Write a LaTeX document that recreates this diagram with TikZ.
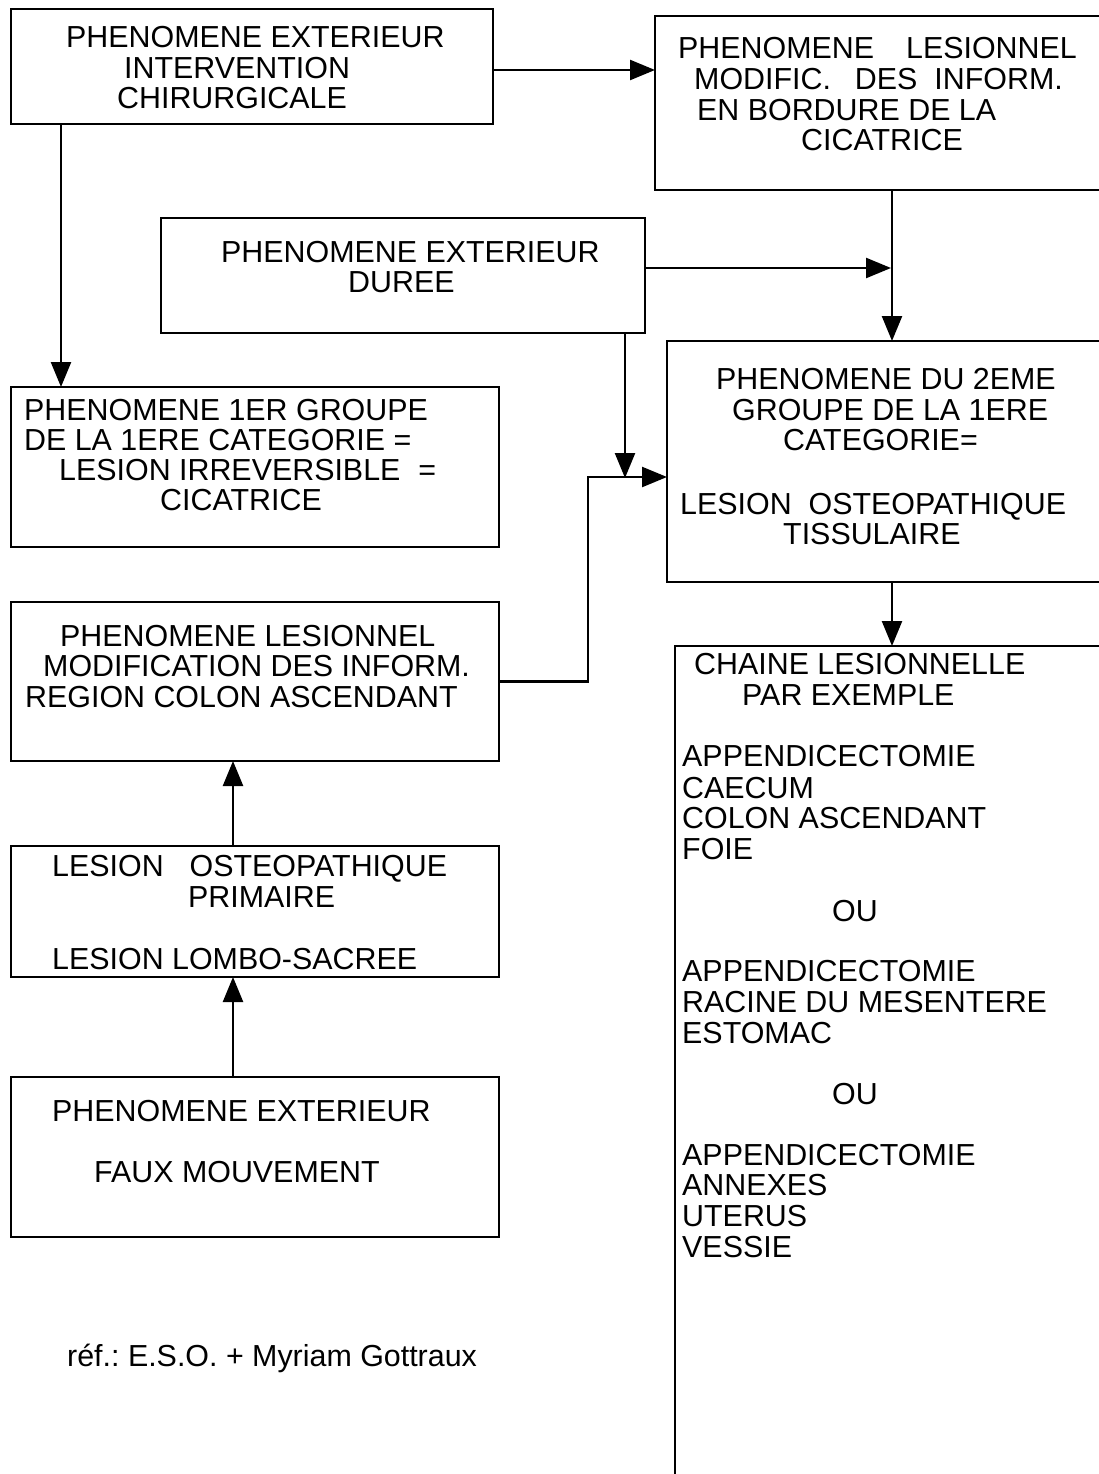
\documentclass[tikz,border=0pt]{standalone}
\usepackage{fontspec}
\setmainfont{Liberation Sans}
\usetikzlibrary{arrows.meta}
\frenchspacing
\begin{document}
\begin{tikzpicture}[x=1pt,y=-1pt,
  box/.style={draw, line width=2.4pt, rectangle, inner sep=0pt, outer sep=0pt, anchor=north west},
  txt/.style={anchor=base west, inner sep=0pt, font=\fontsize{30.4}{30.4}\selectfont},
  arr/.style={line width=2.4pt, -{Triangle[length=25pt,width=20pt]}}]
\fill[white] (0,0) rectangle (1099,1474);
\useasboundingbox (0,0) rectangle (1099,1474);
\clip (0,0) rectangle (1099,1474);

% boxes
\node[box, minimum width=482pt, minimum height=115pt] (b1) at (11,9) {};
\node[box, minimum width=480pt, minimum height=174pt] (b2) at (655,16) {};
\node[box, minimum width=484pt, minimum height=115pt] (b3) at (161,218) {};
\node[box, minimum width=488pt, minimum height=160pt] (b4) at (11,387) {};
\node[box, minimum width=480pt, minimum height=241pt] (b5) at (667,341) {};
\node[box, minimum width=488pt, minimum height=159pt] (b6) at (11,602) {};
\node[box, minimum width=488pt, minimum height=131pt] (b7) at (11,846) {};
\node[box, minimum width=488pt, minimum height=160pt] (b8) at (11,1077) {};
\node[box, minimum width=480pt, minimum height=900pt] (b9) at (675,646) {};

% texts
\node[txt] (t1a) at (66,48) {PHENOMENE EXTERIEUR};
\node[txt] (t1b) at (124,79) {INTERVENTION};
\node[txt] (t1c) at (117,109) {CHIRURGICALE};

\node[txt] (t2a) at (678,59) {PHENOMENE\hspace{32pt}LESIONNEL};
\node[txt] (t2b) at (694,90) {MODIFIC.\hspace{24pt}DES\hspace{17pt}INFORM.};
\node[txt] (t2c) at (697,121) {EN BORDURE DE LA};
\node[txt] (t2d) at (801,151) {CICATRICE};

\node[txt] (t3a) at (221,262) {PHENOMENE EXTERIEUR};
\node[txt] (t3b) at (348,292) {DUREE};

\node[txt] (t4a) at (24,420) {PHENOMENE 1ER GROUPE};
\node[txt] (t4b) at (24,450) {DE LA 1ERE CATEGORIE =};
\node[txt] (t4c) at (59,480) {LESION IRREVERSIBLE\hspace{18pt}=};
\node[txt] (t4d) at (160,510) {CICATRICE};

\node[txt] (t5a) at (716,389) {PHENOMENE DU 2EME};
\node[txt] (t5b) at (732,420) {GROUPE DE LA 1ERE};
\node[txt] (t5c) at (783,450) {CATEGORIE=};
\node[txt] (t5d) at (680,514) {LESION\hspace{17pt}OSTEOPATHIQUE};
\node[txt] (t5e) at (783,544) {TISSULAIRE};

\node[txt] (t6a) at (60,646) {PHENOMENE LESIONNEL};
\node[txt] (t6b) at (43,676) {MODIFICATION DES INFORM.};
\node[txt] (t6c) at (25,707) {REGION COLON ASCENDANT};

\node[txt] (t7a) at (52,876) {LESION\hspace{26pt}OSTEOPATHIQUE};
\node[txt] (t7b) at (188,907) {PRIMAIRE};
\node[txt] (t7c) at (52,969) {LESION LOMBO-SACREE};

\node[txt] (t8a) at (52,1121) {PHENOMENE EXTERIEUR};
\node[txt] (t8b) at (94,1182) {FAUX MOUVEMENT};

\node[txt] (t9a) at (694,674) {CHAINE LESIONNELLE};
\node[txt] (t9b) at (742,705) {PAR EXEMPLE};
\node[txt] (t9c) at (682,766) {APPENDICECTOMIE};
\node[txt] (t9d) at (682,798) {CAECUM};
\node[txt] (t9e) at (682,828) {COLON ASCENDANT};
\node[txt] (t9f) at (682,859) {FOIE};
\node[txt] (t9g) at (832,921) {OU};
\node[txt] (t9h) at (682,981) {APPENDICECTOMIE};
\node[txt] (t9i) at (682,1012) {RACINE DU MESENTERE};
\node[txt] (t9j) at (682,1043) {ESTOMAC};
\node[txt] (t9k) at (832,1104) {OU};
\node[txt] (t9l) at (682,1165) {APPENDICECTOMIE};
\node[txt] (t9m) at (682,1195) {ANNEXES};
\node[txt] (t9n) at (682,1226) {UTERUS};
\node[txt] (t9o) at (682,1257) {VESSIE};

\node[txt] (ref) at (67,1366) {réf.: E.S.O. + Myriam Gottraux};

% helper coordinates
\coordinate (cx) at (892,0);
\coordinate (cl) at (61,0);
\coordinate (cb) at (233,0);
\coordinate (dj) at (625,477);
\coordinate (jn) at (588,477);
\coordinate (e1) at (0,70);
\coordinate (e3) at (0,268);

% connectors
\draw[arr] (b1.east |- e1) -- (b2.west |- e1);
\draw[arr] (b1.south -| cl) -- (b4.north -| cl);
\draw[arr] (b2.south -| cx) -- (b5.north -| cx);
\draw[arr] (b3.east |- e3) -- ([xshift=-1pt]cx |- e3);
\draw[arr] (b3.south -| dj) -- ([yshift=-1pt]dj);
\draw[arr] (b6.east) -- (b6.east -| jn) -- (jn) -- (jn -| b5.west);
\draw[arr] (b5.south -| cx) -- (b9.north -| cx);
\draw[arr] (b7.north -| cb) -- (b6.south -| cb);
\draw[arr] (b8.north -| cb) -- (b7.south -| cb);
\end{tikzpicture}
\end{document}
